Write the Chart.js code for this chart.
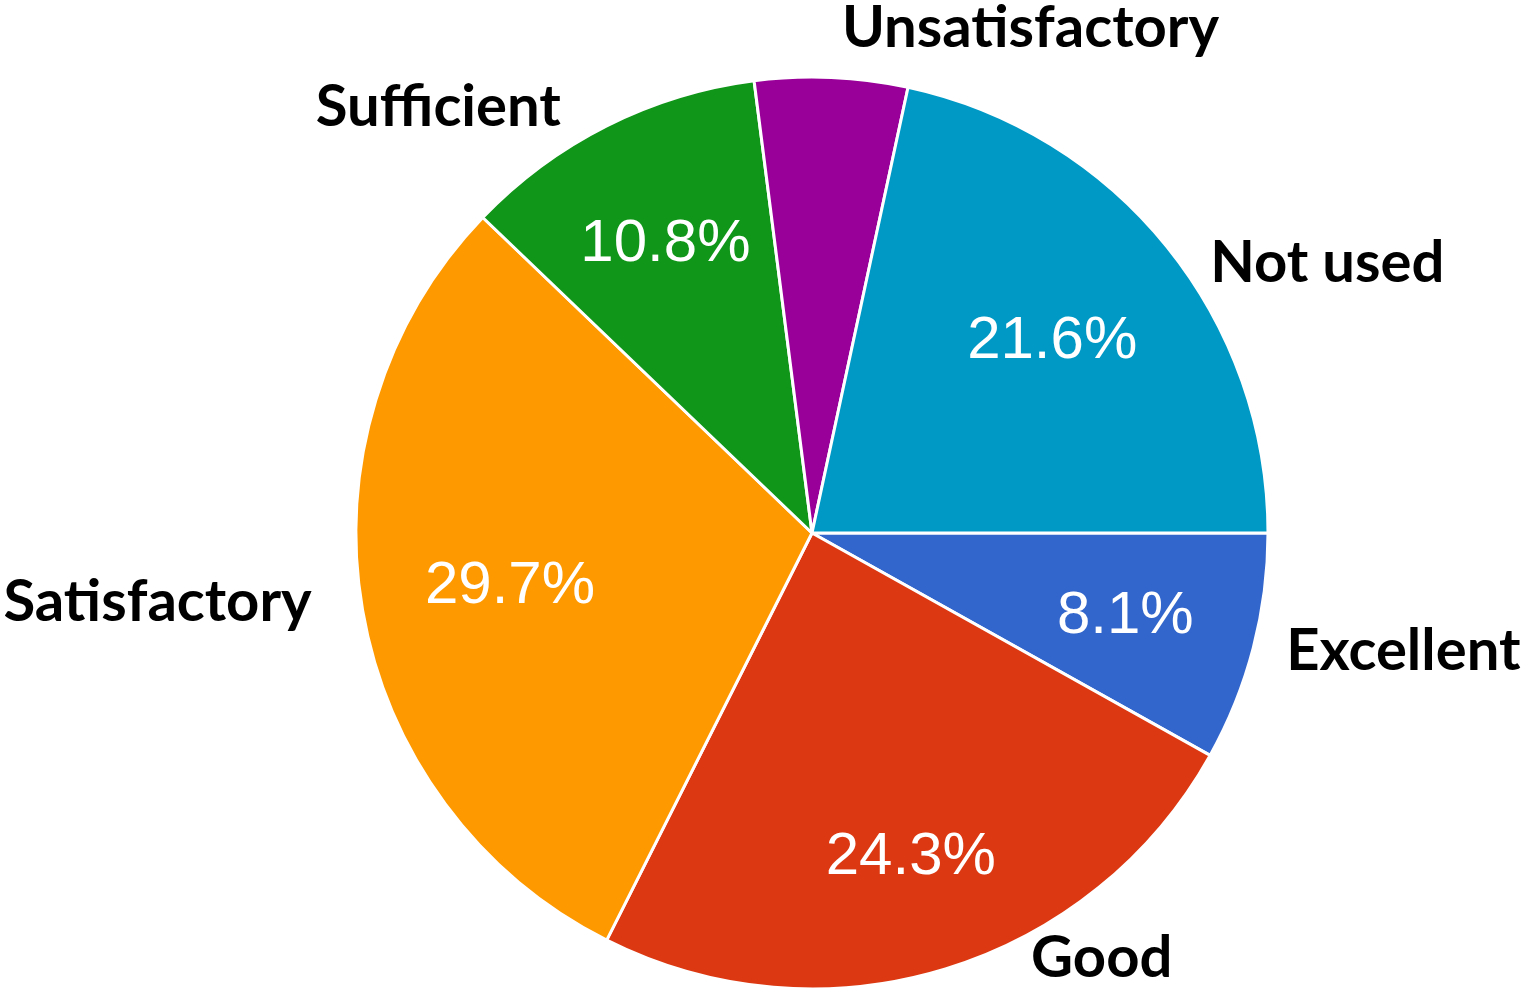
<!DOCTYPE html>
<html>
<head>
<meta charset="utf-8">
<script src="https://cdn.jsdelivr.net/npm/chart.js@4/dist/chart.umd.min.js"></script>
<style>
html, body { margin: 0; padding: 0; background: #ffffff; overflow: hidden; }
#wrap { width: 1524px; height: 988px; }
</style>
</head>
<body>
<div id="wrap"><canvas id="c" width="1524" height="988"></canvas></div>
<script>
// ---- data ----
const categories = ['Excellent', 'Good', 'Satisfactory', 'Sufficient', 'Unsatisfactory', 'Not used'];
const percentValues = [8.1, 24.3, 29.7, 10.8, 5.4, 21.6];
const sliceColors = ['#3366CC', '#DC3912', '#FF9900', '#109618', '#990099', '#0099C6'];
const showPercent = [true, true, true, true, false, true];

// ---- label layout (relative to pie geometry) ----
// inner percent label: radius factor along slice mid-angle
const innerRadiusFactor = [0.71, 0.74, 0.672, 0.714, 0.7, 0.677];
// outer category label: absolute angle (deg, clockwise from 3 o'clock) and radius factor
const outerAngleDeg = [11.2, 55.65, 174.05, 228.8, 293.35, 332.24];
const outerRadiusFactor = [1.322, 1.126, 1.443, 1.244, 1.209, 1.277];

const labelPlugin = {
  id: 'pieLabels',
  afterDatasetsDraw(chart) {
    const ctx = chart.ctx;
    const meta = chart.getDatasetMeta(0);
    ctx.save();
    meta.data.forEach((arc, i) => {
      const R = arc.outerRadius;
      const mid = (arc.startAngle + arc.endAngle) / 2;
      if (showPercent[i]) {
        const r = R * innerRadiusFactor[i];
        const x = arc.x + r * Math.cos(mid);
        const y = arc.y + r * Math.sin(mid);
        ctx.font = '60px "Liberation Sans", Arial, sans-serif';
        ctx.fillStyle = '#ffffff';
        ctx.textAlign = 'center';
        ctx.textBaseline = 'middle';
        ctx.fillText(percentValues[i].toFixed(1) + '%', x, y + 2);
      }
      const a = outerAngleDeg[i] * Math.PI / 180;
      const ro = R * outerRadiusFactor[i];
      const ox = arc.x + ro * Math.cos(a);
      const oy = arc.y + ro * Math.sin(a);
      ctx.font = 'bold 58px Lato, "Open Sans", sans-serif';
      ctx.fillStyle = '#000000';
      ctx.textAlign = 'center';
      ctx.textBaseline = 'alphabetic';
      ctx.fillText(categories[i], ox, oy + 20);
    });
    ctx.restore();
  }
};

new Chart(document.getElementById('c'), {
  type: 'pie',
  data: {
    labels: categories,
    datasets: [{
      data: percentValues,
      backgroundColor: sliceColors,
      borderColor: '#ffffff',
      borderWidth: 3,
      hoverOffset: 0
    }]
  },
  options: {
    responsive: false,
    animation: false,
    devicePixelRatio: 1,
    rotation: 90,
    radius: 456,
    layout: { padding: { left: 100, top: 78, right: 0, bottom: 0 } },
    plugins: {
      legend: { display: false },
      tooltip: { enabled: false }
    }
  },
  plugins: [labelPlugin]
});
</script>
</body>
</html>
